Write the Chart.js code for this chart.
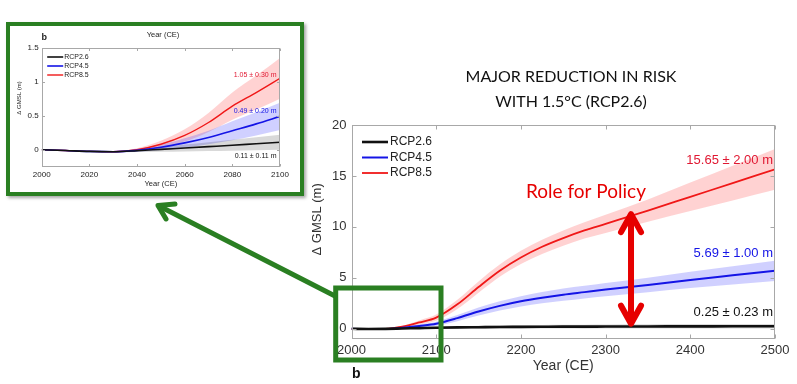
<!DOCTYPE html>
<html><head><meta charset="utf-8">
<script src="https://cdn.jsdelivr.net/npm/chart.js@4.4.1/dist/chart.umd.min.js"></script>
<style>
html,body{margin:0;padding:0;background:#fff;width:797px;height:384px;overflow:hidden}
#main{position:absolute;left:0;top:0}
#insetBox{position:absolute;left:6px;top:22px;width:298px;height:174px;box-sizing:border-box;border:4px solid #2a7f22;background:#fff;box-shadow:2px 2px 3px rgba(0,0,0,0.35)}
#inset{display:block}
</style></head><body>
<canvas id="main" width="797" height="384"></canvas>
<div id="insetBox"><canvas id="inset" width="290" height="166"></canvas></div>
<script>
// ---------- data ----------
const seriesNames = ['RCP2.6', 'RCP4.5', 'RCP8.5'];

const mainYears = [2000,2020,2040,2060,2080,2100,2125,2150,2175,2200,2225,2250,2275,2300,2350,2400,2450,2500];
const mainRcp26    = [0,-0.02,-0.01,0.03,0.07,0.11,0.14,0.16,0.18,0.19,0.20,0.21,0.21,0.22,0.23,0.24,0.245,0.25];
const mainRcp26Err = [0,0.005,0.02,0.05,0.08,0.11,0.13,0.15,0.16,0.17,0.18,0.19,0.20,0.20,0.21,0.22,0.225,0.23];
const mainRcp45    = [0,-0.02,-0.01,0.10,0.28,0.50,1.05,1.70,2.25,2.70,3.05,3.35,3.60,3.85,4.30,4.80,5.25,5.69];
const mainRcp45Err = [0,0.005,0.02,0.07,0.14,0.20,0.30,0.40,0.45,0.50,0.55,0.60,0.62,0.65,0.72,0.80,0.90,1.00];
const mainRcp85    = [0,-0.02,0,0.21,0.62,1.10,2.40,4.10,5.70,7.00,8.05,8.90,9.65,10.30,11.60,12.95,14.30,15.65];
const mainRcp85Err = [0,0.005,0.02,0.09,0.20,0.30,0.45,0.55,0.60,0.65,0.70,0.75,0.80,0.90,1.10,1.40,1.70,2.00];
const mainXTicks = [2000,2100,2200,2300,2400,2500];
const mainYTicks = [0,5,10,15,20];
const mainEndLabels = ['0.25 \u00b1 0.23 m', '5.69 \u00b1 1.00 m', '15.65 \u00b1 2.00 m'];

const insetYears = [2000,2010,2020,2030,2040,2050,2060,2070,2080,2090,2100];
const insetRcp26    = [0,-0.012,-0.025,-0.03,-0.015,0.005,0.025,0.045,0.065,0.088,0.11];
const insetRcp26Err = [0,0.003,0.006,0.01,0.02,0.035,0.05,0.065,0.08,0.095,0.11];
const insetRcp45    = [0,-0.012,-0.025,-0.03,-0.01,0.035,0.10,0.18,0.28,0.38,0.49];
const insetRcp45Err = [0,0.003,0.006,0.01,0.02,0.04,0.07,0.10,0.14,0.17,0.20];
const insetRcp85    = [0,-0.012,-0.025,-0.03,0,0.08,0.21,0.40,0.64,0.84,1.05];
const insetRcp85Err = [0,0.003,0.006,0.01,0.02,0.05,0.09,0.14,0.20,0.25,0.30];
const insetXTicks = [2000,2020,2040,2060,2080,2100];
const insetYTicks = [0,0.5,1,1.5];
const insetEndLabels = ['0.11 \u00b1 0.11 m', '0.49 \u00b1 0.20 m', '1.05 \u00b1 0.30 m'];

const titleLines = ['MAJOR REDUCTION IN RISK', 'WITH 1.5\u00b0C (RCP2.6)'];
const policyText = 'Role for Policy';

// ---------- styles ----------
Chart.defaults.font.family = "'Liberation Sans', Arial, sans-serif";
Chart.defaults.color = '#222';
const GREEN = '#2a7f22';
const POLICY_RED = '#e60000';
const lineColors = ['#111111', '#1414e6', '#f01818'];
const bandColors = ['rgba(0,0,0,0.15)', 'rgba(60,60,255,0.24)', 'rgba(255,50,50,0.22)'];
const textColors = ['#111111', '#1414e6', '#e01832'];

function makeDatasets(years, series, errs, widths) {
  const ds = [];
  series.forEach((vals, i) => {
    ds.push({ label: '', data: years.map((x, k) => ({ x, y: vals[k] + errs[i][k] })), fill: '+1',
      backgroundColor: bandColors[i], borderColor: 'rgba(0,0,0,0)', borderWidth: 0, pointRadius: 0,
      cubicInterpolationMode: 'monotone', order: 10 + i });
    ds.push({ label: '', data: years.map((x, k) => ({ x, y: vals[k] - errs[i][k] })), fill: false,
      borderColor: 'rgba(0,0,0,0)', borderWidth: 0, pointRadius: 0,
      cubicInterpolationMode: 'monotone', order: 10 + i });
  });
  series.forEach((vals, i) => {
    ds.push({ label: seriesNames[i], data: years.map((x, k) => ({ x, y: vals[k] })), fill: false,
      borderColor: lineColors[i], backgroundColor: lineColors[i], borderWidth: widths[i], pointRadius: 0,
      cubicInterpolationMode: 'monotone', order: 1 + i });
  });
  return ds;
}

function drawFrame(chart, tickLen, color) {
  const { ctx, chartArea: a, scales: { x, y } } = chart;
  ctx.save();
  ctx.strokeStyle = color; ctx.lineWidth = 1;
  const L = Math.round(a.left) + 0.5, R = Math.round(a.right) - 0.5, T = Math.round(a.top) + 0.5, B = Math.round(a.bottom) - 0.5;
  ctx.strokeRect(L, T, R - L, B - T);
  ctx.beginPath();
  x.ticks.forEach(t => {
    const px = Math.round(x.getPixelForValue(t.value)) + 0.5;
    ctx.moveTo(px, B); ctx.lineTo(px, B - tickLen);
    ctx.moveTo(px, T); ctx.lineTo(px, T + tickLen);
  });
  y.ticks.forEach(t => {
    const py = Math.round(y.getPixelForValue(t.value)) + 0.5;
    ctx.moveTo(L, py); ctx.lineTo(L + tickLen, py);
    ctx.moveTo(R, py); ctx.lineTo(R - tickLen, py);
  });
  ctx.stroke();
  ctx.restore();
}

function drawLegend(chart, x0, y0, step, lineLen, fontPx, gap) {
  const ctx = chart.ctx;
  const items = chart.data.datasets.filter(d => d.label);
  ctx.save();
  items.forEach((d, i) => {
    const yy = y0 + i * step;
    ctx.strokeStyle = d.borderColor; ctx.lineWidth = d.borderWidth;
    ctx.beginPath(); ctx.moveTo(x0, yy); ctx.lineTo(x0 + lineLen, yy); ctx.stroke();
    ctx.fillStyle = '#222';
    ctx.font = fontPx + "px 'Liberation Sans', Arial, sans-serif";
    ctx.textBaseline = 'middle'; ctx.textAlign = 'left';
    ctx.fillText(d.label, x0 + lineLen + gap, yy);
  });
  ctx.restore();
}

function drawEndLabels(chart, texts, offsets, rightX, fontPx) {
  const { ctx, scales: { y } } = chart;
  const lines = chart.data.datasets.filter(d => d.label);
  ctx.save();
  ctx.font = fontPx + "px 'Liberation Sans', Arial, sans-serif";
  ctx.textAlign = 'right'; ctx.textBaseline = 'middle';
  lines.forEach((d, i) => {
    const last = d.data[d.data.length - 1].y;
    ctx.fillStyle = textColors[i];
    ctx.fillText(texts[i], rightX, y.getPixelForValue(last) + offsets[i]);
  });
  ctx.restore();
}

function strokePath(ctx, pts) {
  ctx.beginPath();
  ctx.moveTo(pts[0][0], pts[0][1]);
  for (let i = 1; i < pts.length; i++) ctx.lineTo(pts[i][0], pts[i][1]);
  ctx.stroke();
}

const mainDecor = {
  id: 'mainDecor',
  afterDatasetsDraw(chart) { drawFrame(chart, 4, '#a8a8a8'); },
  afterDraw(chart) {
    const { ctx, chartArea: a, scales: { x, y } } = chart;
    drawLegend(chart, a.left + 10.5, a.top + 17, 15.5, 26, 12, 2);
    drawEndLabels(chart, mainEndLabels, [-14, -17, -8.6], a.right - 2, 13);
    ctx.save();
    // title
    ctx.fillStyle = '#111'; ctx.textAlign = 'center'; ctx.textBaseline = 'middle';
    ctx.font = "16px Lato, 'Open Sans', sans-serif";
    ctx.fillText(titleLines[0], 571, 77);
    ctx.fillText(titleLines[1], 571, 102);
    // role for policy
    ctx.fillStyle = POLICY_RED;
    ctx.font = "19px Lato, 'Open Sans', sans-serif";
    ctx.fillText(policyText, 586, 192);
    // red double arrow at year 2330
    const ax = x.getPixelForValue(2330);
    const topY = y.getPixelForValue(11.25), botY = y.getPixelForValue(0.5);
    ctx.strokeStyle = POLICY_RED; ctx.lineWidth = 6; ctx.lineCap = 'round'; ctx.lineJoin = 'round';
    strokePath(ctx, [[ax, topY + 3], [ax, botY - 3]]);
    strokePath(ctx, [[ax - 10, topY + 18], [ax, topY], [ax + 10, topY + 18]]);
    strokePath(ctx, [[ax - 10, botY - 18], [ax, botY], [ax + 10, botY - 18]]);
    // green box over the 2000-2100 window
    ctx.strokeStyle = GREEN; ctx.lineWidth = 5; ctx.lineJoin = 'miter'; ctx.lineCap = 'butt';
    ctx.strokeRect(335.7, 288, 105.3, 72);
    // green arrow toward the inset
    ctx.lineCap = 'round'; ctx.lineJoin = 'round';
    strokePath(ctx, [[335, 296], [159, 206]]);
    strokePath(ctx, [[175, 204], [158, 205.5], [166, 219]]);
    // panel letter
    ctx.fillStyle = '#111'; ctx.textAlign = 'left'; ctx.textBaseline = 'alphabetic';
    ctx.font = "bold 14px 'Liberation Sans', Arial, sans-serif";
    ctx.fillText('b', 352, 378);
    ctx.restore();
  }
};

const insetDecor = {
  id: 'insetDecor',
  afterDatasetsDraw(chart) { drawFrame(chart, 2.5, '#a8a8a8'); },
  afterDraw(chart) {
    const { ctx, chartArea: a } = chart;
    drawLegend(chart, a.left + 5.5, a.top + 9.3, 9, 16, 7, 1);
    drawEndLabels(chart, insetEndLabels, [13.5, -5, -3.6], a.right - 3.5, 7);
    ctx.save();
    ctx.fillStyle = '#222'; ctx.textAlign = 'center'; ctx.textBaseline = 'middle';
    ctx.font = "7.5px 'Liberation Sans', Arial, sans-serif";
    ctx.fillText('Year (CE)', 153, 8.5);
    ctx.textAlign = 'left';
    ctx.font = "bold 9px 'Liberation Sans', Arial, sans-serif";
    ctx.fillText('b', 31.5, 11.5);
    ctx.restore();
  }
};

new Chart(document.getElementById('main'), {
  type: 'line',
  data: { datasets: makeDatasets(mainYears, [mainRcp26, mainRcp45, mainRcp85], [mainRcp26Err, mainRcp45Err, mainRcp85Err], [2.6, 2, 1.8]) },
  options: {
    responsive: false, animation: false, devicePixelRatio: 1, events: [],
    layout: { padding: { left: 306, right: 22, top: 125, bottom: 5 } },
    plugins: { legend: { display: false }, tooltip: { enabled: false } },
    scales: {
      x: {
        type: 'linear', min: 2000, max: 2500,
        grid: { display: false, drawTicks: false }, border: { display: false },
        afterBuildTicks: s => { s.ticks = mainXTicks.map(v => ({ value: v })); },
        afterFit: s => { s.height = 40; },
        ticks: { font: { size: 13 }, color: '#333', padding: 4, maxRotation: 0, autoSkip: false, callback: v => String(v) },
        title: { display: true, text: 'Year (CE)', font: { size: 14 }, color: '#333', padding: { top: 4, bottom: 4 } }
      },
      y: {
        type: 'linear', min: -1, max: 20,
        grid: { display: false, drawTicks: false }, border: { display: false },
        afterBuildTicks: s => { s.ticks = mainYTicks.map(v => ({ value: v })); },
        afterFit: s => { s.width = 45.5; },
        ticks: { font: { size: 13 }, color: '#333', padding: 5, callback: v => String(v) },
        title: { display: true, text: '       \u0394 GMSL (m)', font: { size: 13 }, color: '#333', padding: { top: 4, bottom: 4 } }
      }
    }
  },
  plugins: [mainDecor]
});

new Chart(document.getElementById('inset'), {
  type: 'line',
  data: { datasets: makeDatasets(insetYears, [insetRcp26, insetRcp45, insetRcp85], [insetRcp26Err, insetRcp45Err, insetRcp85Err], [1.6, 1.6, 1.4]) },
  options: {
    responsive: false, animation: false, devicePixelRatio: 1, events: [],
    layout: { padding: { left: 4, right: 20, top: 21.7, bottom: 3 } },
    plugins: { legend: { display: false }, tooltip: { enabled: false } },
    scales: {
      x: {
        type: 'linear', min: 2000, max: 2100,
        grid: { display: false, drawTicks: false }, border: { display: false },
        afterBuildTicks: s => { s.ticks = insetXTicks.map(v => ({ value: v })); },
        afterFit: s => { s.height = 22.3; },
        ticks: { font: { size: 8 }, color: '#222', padding: 3.5, maxRotation: 0, autoSkip: false, callback: v => String(v) },
        title: { display: true, text: 'Year (CE)', font: { size: 7.5 }, color: '#222', padding: { top: 1, bottom: 1 } }
      },
      y: {
        type: 'linear', min: -0.25, max: 1.5,
        grid: { display: false, drawTicks: false }, border: { display: false },
        afterBuildTicks: s => { s.ticks = insetYTicks.map(v => ({ value: v })); },
        afterFit: s => { s.width = 27.7; },
        ticks: { font: { size: 8 }, color: '#222', padding: 3, callback: v => String(v) },
        title: { display: true, text: '           \u0394 GMSL (m)', font: { size: 6 }, color: '#222', padding: { top: 2, bottom: 2 } }
      }
    }
  },
  plugins: [insetDecor]
});
</script></body></html>
